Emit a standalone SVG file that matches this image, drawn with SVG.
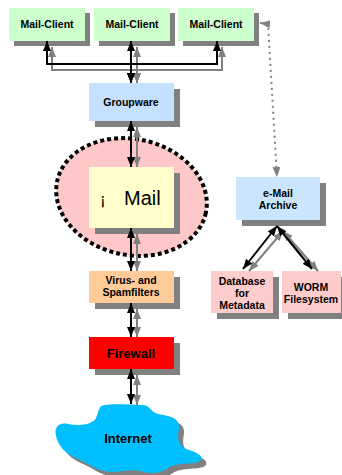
<svg xmlns="http://www.w3.org/2000/svg" width="342" height="475" viewBox="0 0 342 475">
<defs>
<style>
.sh{fill:#808080}
.t{font-family:"Liberation Sans",Arial,sans-serif;font-weight:bold;font-size:10.5px;fill:#000;text-anchor:middle}
.bk{fill:none;stroke:#000;stroke-width:2;marker-start:url(#ab);marker-end:url(#ab)}
.gr{fill:none;stroke:#808080;stroke-width:2;marker-start:url(#ag);marker-end:url(#ag)}
</style>
<marker id="ab" viewBox="0 0 10 8" refX="10" refY="4" markerWidth="10" markerHeight="8" markerUnits="userSpaceOnUse" orient="auto-start-reverse"><path d="M0,0 L10,4 L0,8 z" fill="#000"/></marker>
<marker id="ag" viewBox="0 0 10 8" refX="10" refY="4" markerWidth="10" markerHeight="8" markerUnits="userSpaceOnUse" orient="auto-start-reverse"><path d="M0,0 L10,4 L0,8 z" fill="#808080"/></marker>
</defs>
<rect width="342" height="475" fill="#fff"/>

<g id="mail-zone">
<ellipse cx="131.5" cy="197" rx="76" ry="58" transform="rotate(12 131.5 197)" fill="#ffc8c8" stroke="#000" stroke-width="4" stroke-dasharray="4 3"/>
</g>

<g id="client1"><rect class="sh" x="14" y="13" width="76" height="33"/><rect x="9" y="8" width="76" height="33" fill="#ccffcc"/><text class="t" x="47" y="28">Mail-Client</text></g>
<g id="client2"><rect class="sh" x="99" y="13" width="76" height="33"/><rect x="94" y="8" width="76" height="33" fill="#ccffcc"/><text class="t" x="132" y="28">Mail-Client</text></g>
<g id="client3"><rect class="sh" x="183" y="13" width="76" height="33"/><rect x="178" y="8" width="76" height="33" fill="#ccffcc"/><text class="t" x="216" y="28">Mail-Client</text></g>

<g id="groupware"><rect class="sh" x="95" y="89" width="85" height="38"/><rect x="89" y="83" width="85" height="38" fill="#c6e0ff"/><text class="t" x="131" y="106">Groupware</text></g>

<g id="mail"><rect class="sh" x="95" y="173" width="85" height="61"/><rect x="89" y="167" width="85" height="61" fill="#ffffcc"/><text x="100" y="205" font-family="Liberation Sans,Arial,sans-serif" font-size="17" fill="#000">¡</text><text x="124" y="205" font-family="Liberation Sans,Arial,sans-serif" font-size="20" fill="#000">Mail</text></g>

<g id="virus"><rect class="sh" x="95" y="277" width="85" height="32"/><rect x="89" y="271" width="85" height="32" fill="#ffcc99"/><text class="t" x="131" y="284">Virus- and</text><text class="t" x="131" y="296">Spamfilters</text></g>

<g id="firewall"><rect class="sh" x="95" y="343" width="85" height="32"/><rect x="89" y="337" width="85" height="32" fill="#ff0000"/><text class="t" x="131" y="358" style="font-size:13px">Firewall</text></g>

<g id="internet">
<path transform="translate(5,5)" class="sh" d="M100,408 C100,403 120,404 143,405 C150,405 150,412 158,414 C170,416 180,418 179,428 C178,436 176,443 186,449 C196,452 205,456 200,461 C195,465 176,462 168,468 C160,474 150,474 140,471 C128,468 118,474 104,471 C94,469 86,462 76,458 C66,454 58,446 56,436 C54,428 58,422 68,424 C80,426 92,425 96,418 C98,414 98,410 100,408 Z"/>
<path fill="#00bfff" d="M100,408 C100,403 120,404 143,405 C150,405 150,412 158,414 C170,416 180,418 179,428 C178,436 176,443 186,449 C196,452 205,456 200,461 C195,465 176,462 168,468 C160,474 150,474 140,471 C128,468 118,474 104,471 C94,469 86,462 76,458 C66,454 58,446 56,436 C54,428 58,422 68,424 C80,426 92,425 96,418 C98,414 98,410 100,408 Z"/>
<text class="t" x="128" y="443" style="font-size:13px">Internet</text>
</g>

<g id="archive"><rect class="sh" x="242" y="183" width="84" height="43"/><rect x="236" y="177" width="84" height="43" fill="#cce5ff"/><text class="t" x="278" y="197">e-Mail</text><text class="t" x="278" y="209">Archive</text></g>

<g id="database"><rect class="sh" x="217" y="277" width="62" height="42"/><rect x="211" y="271" width="62" height="42" fill="#ffcccc"/><text class="t" x="242" y="285">Database</text><text class="t" x="242" y="297">for</text><text class="t" x="242" y="309">Metadata</text></g>

<g id="worm"><rect class="sh" x="288" y="277" width="59" height="42"/><rect x="282" y="271" width="59" height="42" fill="#ffcccc"/><text class="t" x="311" y="291">WORM</text><text class="t" x="311" y="303">Filesystem</text></g>

<g id="connectors">
<path class="gr" d="M52,47 V70 H137 V83"/>
<path class="gr" d="M222,47 V70 H137 V83"/>
<path class="gr" d="M137,47 V83"/>
<path class="bk" d="M47,41 V64 H131 V83"/>
<path class="bk" d="M217,41 V64 H131 V83"/>
<path class="bk" d="M131,41 V83"/>
<path class="gr" d="M137,127 V167"/>
<path class="bk" d="M131,121 V167"/>
<path class="gr" d="M137,234 V271"/>
<path class="bk" d="M131,228 V271"/>
<path class="gr" d="M137,309 V337"/>
<path class="bk" d="M131,303 V337"/>
<path class="gr" d="M137,375 V405"/>
<path class="bk" d="M131,369 V404"/>
<path class="gr" d="M283,231 L249,271"/>
<path class="gr" d="M283,231 L318,271"/>
<path class="bk" d="M277,226 L243,269"/>
<path class="bk" d="M277,226 L312,269"/>
<path d="M260,23 L268,24 L277,177" fill="none" stroke="#808080" stroke-width="2" stroke-dasharray="2 4" marker-start="url(#ag)" marker-end="url(#ag)"/>
</g>
</svg>
